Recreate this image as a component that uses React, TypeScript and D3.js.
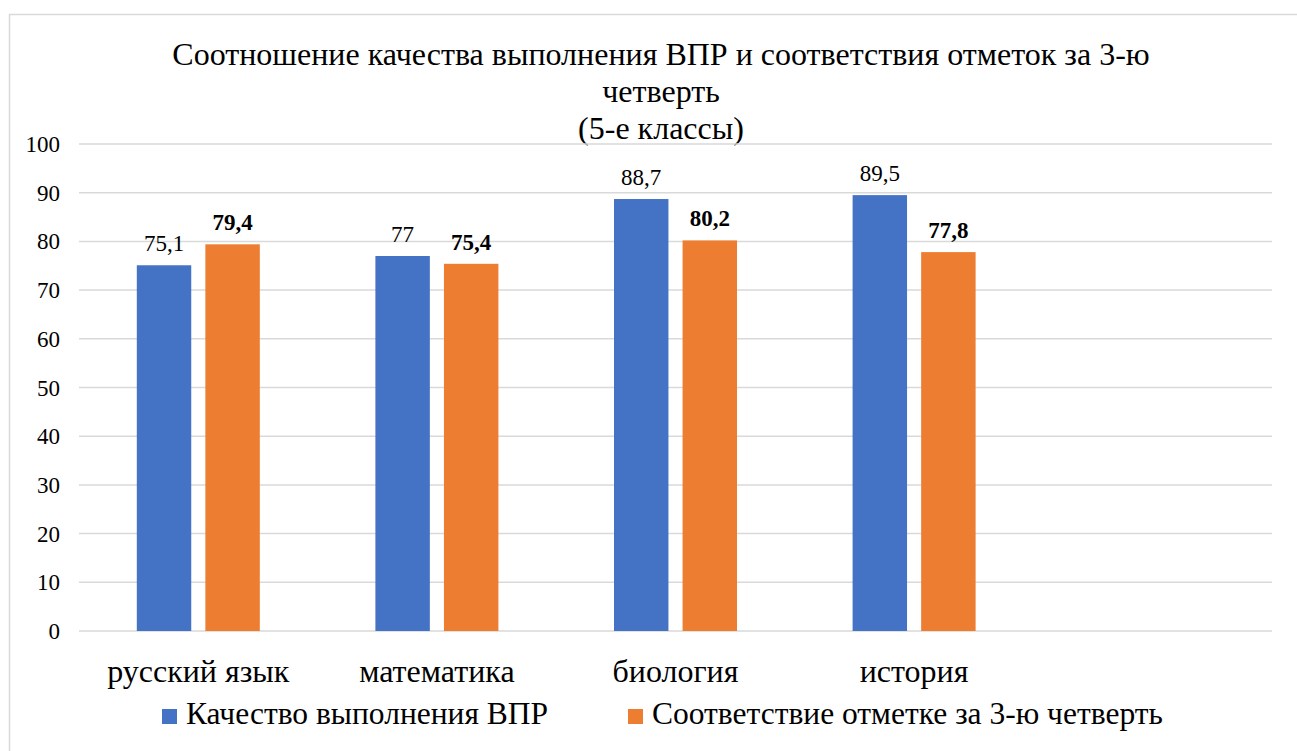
import React from "react";
import * as d3 from "d3";

const categories = ["русский язык", "математика", "биология", "история", ""];
const seriesNames = ["Качество выполнения ВПР", "Соответствие отметке за 3-ю четверть"];
const qualityValues: (number | null)[] = [75.1, 77, 88.7, 89.5, null];
const matchValues: (number | null)[] = [79.4, 75.4, 80.2, 77.8, null];
const yTicks = [0, 10, 20, 30, 40, 50, 60, 70, 80, 90, 100];
const titleLines = [
  "Соотношение качества выполнения ВПР и соответствия отметок за 3-ю",
  "четверть",
  "(5-е классы)",
];

const W = 1297;
const H = 751;
const colors = ["#4472C4", "#ED7D31"];
const FONT = "Liberation Serif";
const tStyle = { fontFamily: "'Liberation Serif', serif" };

const fmt = (v: number) => String(v).replace(".", ",");

export default function App() {
  const x = d3.scaleBand<string>().domain(categories).range([79, 1272]).padding(0);
  const y = d3.scaleLinear().domain([0, 100]).range([631, 144]);
  const sub = d3
    .scaleBand<string>()
    .domain(seriesNames)
    .range([-61.5, 61.5])
    .paddingInner(0.206)
    .paddingOuter(0);
  const series = [qualityValues, matchValues];

  return (
    <svg width={W} height={H} style={{ position: "fixed", left: 0, top: 0, background: "#fff" }}>
      <style>{`text { font-family: 'Liberation Serif', serif; }`}</style>
      <rect x={9.5} y={14.5} width={1400} height={800} fill="#fff" stroke="#D9D9D9" strokeWidth={1.5} />
      {titleLines.map((t, i) => (
        <text key={i} x={661} y={65 + i * 37} textAnchor="middle" fontSize={32} fontFamily={FONT} style={tStyle} fill="#000">
          {t}
        </text>
      ))}
      {yTicks.map((t) => (
        <g key={t}>
          <line x1={79} x2={1272} y1={y(t)} y2={y(t)} stroke="#D9D9D9" strokeWidth={1.5} />
          <text x={60} y={y(t) + 8} textAnchor="end" fontSize={23} fontFamily={FONT} style={tStyle} fill="#000">
            {t}
          </text>
        </g>
      ))}
      {categories.map((c, ci) => {
        const cx = (x(c) as number) + x.bandwidth() / 2;
        return (
          <g key={ci}>
            {series.map((vals, si) => {
              const v = vals[ci];
              if (v == null) return null;
              const bx = cx + (sub(seriesNames[si]) as number);
              const bw = sub.bandwidth();
              return (
                <g key={si}>
                  <rect x={bx} y={y(v)} width={bw} height={y(0) - y(v)} fill={colors[si]} />
                  <text
                    x={bx + bw / 2}
                    y={y(v) - 14}
                    textAnchor="middle"
                    fontSize={23}
                    fontFamily={FONT}
                    style={tStyle}
                    fontWeight={si === 1 ? "bold" : "normal"}
                    fill="#000"
                  >
                    {fmt(v)}
                  </text>
                </g>
              );
            })}
            {c && (
              <text x={cx} y={682} textAnchor="middle" fontSize={32} fontFamily={FONT} style={tStyle} fill="#000">
                {c}
              </text>
            )}
          </g>
        );
      })}
      {seriesNames.map((s, i) => {
        const lx = i === 0 ? 162 : 628;
        return (
          <g key={s}>
            <rect x={lx} y={709} width={15} height={15} fill={colors[i]} />
            <text x={lx + 24} y={724} fontSize={31.5} fontFamily={FONT} style={tStyle} fill="#000">
              {s}
            </text>
          </g>
        );
      })}
    </svg>
  );
}
